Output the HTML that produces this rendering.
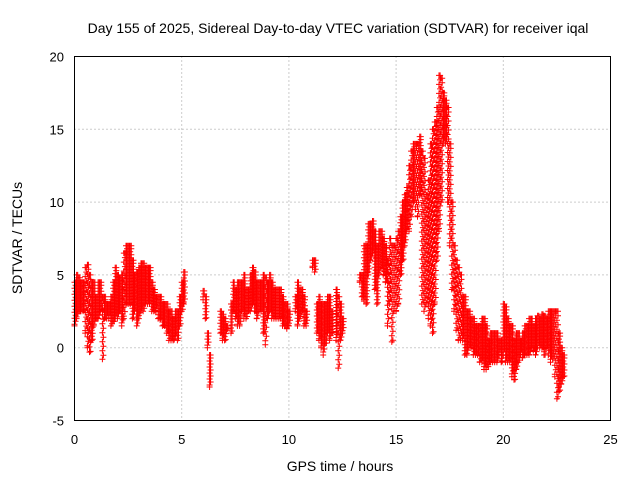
<!DOCTYPE html>
<html><head><meta charset="utf-8"><style>
body{margin:0;background:#fff}
svg{display:block;font-family:"Liberation Sans",sans-serif}
</style></head><body>
<svg id="chart" width="640" height="480" viewBox="0 0 640 480">
<text x="338" y="33" font-size="14" text-anchor="middle">Day 155 of 2025, Sidereal Day-to-day VTEC variation (SDTVAR) for receiver iqal</text>
<text transform="translate(22,238) rotate(-90)" font-size="14" text-anchor="middle">SDTVAR / TECUs</text>
<text x="340" y="471" font-size="14" text-anchor="middle">GPS time / hours</text>
<g id="grid"></g>
<g id="ticks"></g>
<g id="marks"></g>
<rect x="74.5" y="56.5" width="536" height="364" fill="none" stroke="#000"/>
</svg>
<script>
const xTicks=[0,5,10,15,20,25];
const yTicks=[-5,0,5,10,15,20];
const binHours=0.1;
const hi=[4.5,5,4.8,4.5,4.5, 5.5,5.7,5,4.5,4.5, 3.5,4.5,4.5,3.5,3.5, 3,3,3.5,4.5,5.5,
5,4.8,5,6.5,7, 7,7,6,5,5.2, 5.5,5.8,5.8,5.5,5.5, 5.5,4.5,4,3.5,3.5,
3.5,3,3,3,2.5, 2.5,2,2.5,2.5,3.5, 4.5,5.2,null,null,null, null,null,null,null,null,
3.9,3.5,1,-0.5,null, null,null,null,2.5,2.3, 2,1.5,null,3,4.5, 4,4.5,4.5,4.5,5,
4,4,5,5.5,5.2, 4.5,4.5,4.5,5,4.8, 4.5,5,4.5,4,4, 4,4,3.5,3,3,
2.5,null,null,3.5,4.5, 4,4,3.5,2.5,null, null,6,6,3,3.5, 3,3,3,3.5,3.5,
2.5,null,4,3.5,3, 2,null,null,null,null, null,null,null,5,5, 7,7,8.5,8.5,8.7,
8,7,8,8,7.5, 7,6,7.5,7,7, 7.5,8,9,10,10.5, 11,12.5,13.5,14,14,
14,14.5,13.5,13,10.5, 11.5,14,15,15.5,16.5, 18.7,18.5,17.5,17,16.5, 14,10,7,6,5.5,
5,3.5,3.5,2.5,2.5, 2,2,1.5,1.5,1.5, 2,2,1.5,0.5,1, 1,1,1,0.5,0.5,
3,2.8,2,1.5,1.5, 0.5,1,1,0.5,1, 1.5,1.5,2,2,1.5, 2,2.2,2,2.3,2.2,
2,2.5,2.5,2.5,2.5, 2.5,1,0,-0.5];
const lo=[1.5,2,2.5,2.5,2.5, 1,0,-0.3,0.5,1.5, 2,2,2.5,-0.8,2, 2,2,1.5,1.8,2,
2,2.5,1.5,2,3, 3,3,2,2.5,1.5, 2,2.5,2.5,3,3, 3,2.5,2.5,2.5,2,
2,1.5,1.5,1,0.5, 0.5,0.5,0.8,0.5,1.5, 2.5,3,null,null,null, null,null,null,null,null,
3.3,2,0,-2.7,null, null,null,null,1,0.5, 0.5,1.2,null,1,2.5, 2,1.5,1.5,2.5,2,
2,2.5,2.5,3,2.5, 2,2.5,2.5,1,0.2, 2,2.5,2,2,2, 2,2,1.5,1.5,1.3,
1.5,null,null,2.5,1.5, 2,2.5,1.5,1.5,null, null,5.5,5.2,1,0.5, 0,-0.5,0.3,1,0.5,
1,null,0.5,-1.4,0.5, 1,null,null,null,null, null,null,null,4.5,3.5, 3.2,3,5,6,6.5,
4,3,5,5.5,5, 4.5,1.5,3,0.4,2.5, 2.5,3,5,6,7, 8,8,9,10,9.5,
9,10.5,3,2.5,3, 2,1.5,1,3,6, 8,10,14,14,10, 7,4,2.5,1.2,0.5,
0.5,0.5,-0.5,-0.5,0, 0,-0.5,-0.5,-0.5,-1, -1,-1.5,-1.5,-1.3,-1, -1,-1,-1,-0.5,-1,
-0.5,-1,-1,-1,-2, -2.2,-1.5,-1,-0.5,-0.7, -0.5,-0.5,-0.5,0,-0.2, -0.5,0,0,0,-0.5,
0,-0.5,-1,-0.8,-2, -3.5,-3,-2.5,-2];
const X=h=>74.5+h*536/25;
const Y=v=>56.5+(20-v)*364/25;
const NS="http://www.w3.org/2000/svg";
const grid=document.getElementById('grid'),ticks=document.getElementById('ticks'),marks=document.getElementById('marks');
function mk(tag,attrs,parent){const e=document.createElementNS(NS,tag);for(const k in attrs)e.setAttribute(k,attrs[k]);parent.appendChild(e);return e;}
xTicks.forEach(t=>{
 if(t>0&&t<25){const g=mk('line',{x1:X(t),x2:X(t),y1:56.5,y2:420.5,stroke:'#999','stroke-dasharray':'1,3'},grid);
 
 }
 const tk=mk('text',{x:X(t),y:444,'font-size':13,'text-anchor':'middle'},ticks);tk.textContent=t;
 
 
});
yTicks.forEach(t=>{
 if(t>-5&&t<20){const g=mk('line',{x1:74.5,x2:610.5,y1:Y(t),y2:Y(t),stroke:'#999','stroke-dasharray':'1,3'},grid);
 
 }
 const tk=mk('text',{x:64,y:Y(t)+5,'font-size':13,'text-anchor':'end'},ticks);tk.textContent=t;
 
 
});
let d='';
function cross(x,y){d+=`M${(x-3).toFixed(1)} ${y.toFixed(1)}h6M${x.toFixed(1)} ${(y-3).toFixed(1)}v6`;}
for(let i=0;i<hi.length;i++){
 if(hi[i]==null||lo[i]==null)continue;
 const t=i*binHours;
 [0,0.05].forEach((o,k)=>{
  const x=X(t+o);
  const y1=Y(hi[i]),y2=Y(lo[i]);
  const step=(y2-y1)>60?9:6;
  for(let y=y1+k*step/2;y<=y2;y+=step)cross(x,y);
  cross(x,k?y1:y2);
 });
}
const p=mk('path',{d:d,stroke:'#f00','stroke-width':1,fill:'none'},marks);


</script>
</body></html>
